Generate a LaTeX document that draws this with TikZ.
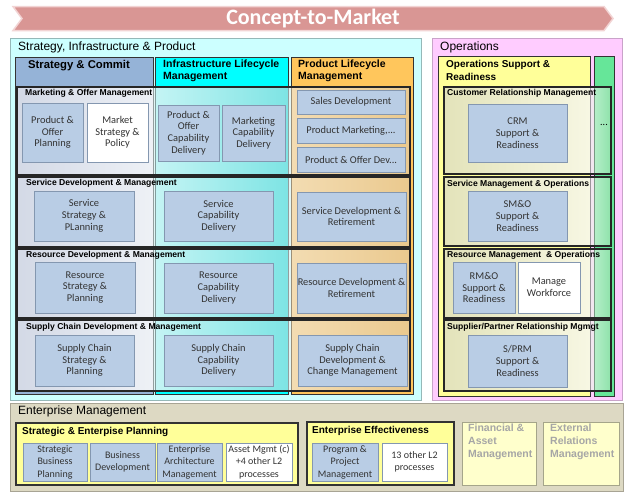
\documentclass[tikz,border=0pt]{standalone}
\usepackage{fontspec}
\setmainfont{Carlito}
\newfontfamily\arial{Liberation Sans}
\definecolor{procfill}{HTML}{B9CDE5}
\definecolor{procline}{HTML}{8497B0}
\definecolor{proctext}{HTML}{333333}
\definecolor{bannerfill}{HTML}{D99694}
\definecolor{bannerline}{HTML}{F2D4D4}
\definecolor{sipfill}{HTML}{CCFFFF}
\definecolor{sipline}{HTML}{95B8B8}
\definecolor{stratfill}{HTML}{95B3D7}
\definecolor{infrafill}{HTML}{00FFFF}
\definecolor{prodfill}{HTML}{FFC65C}
\definecolor{opsfill}{HTML}{FFCCFF}
\definecolor{opsline}{HTML}{C9A3C9}
\definecolor{osrfill}{HTML}{FFFF99}
\definecolor{greenfill}{HTML}{66E699}
\definecolor{emfill}{HTML}{DDD9C3}
\definecolor{emline}{HTML}{A8A494}
\definecolor{faint}{HTML}{A6A6A6}
\definecolor{faintfill}{HTML}{FFFFCC}
\definecolor{faintline}{HTML}{A5A58A}
\definecolor{sL}{HTML}{D3D9E6}
\definecolor{sR}{HTML}{EEF1F6}
\definecolor{iL}{HTML}{C4F4F4}
\definecolor{iR}{HTML}{7EE4E4}
\definecolor{pL}{HTML}{F3DCB2}
\definecolor{pR}{HTML}{EAC98E}
\definecolor{rowbase}{HTML}{E2F6F6}
\definecolor{yL}{HTML}{E3E3BA}
\definecolor{yR}{HTML}{F7F7E3}
\definecolor{gL}{HTML}{B4EEC8}
\definecolor{gR}{HTML}{8EE2AA}
\definecolor{opsrowbase}{HTML}{F2E6F0}
% process box: [style]{name}{x1}{y1}{x2}{y2}{text}
\newcommand\pbox[7][proc]{\node[#1, minimum width={(#5)-(#3)}, minimum height={(#6)-(#4)}]
  (#2) at ({((#3)+(#5))/2},{((#4)+(#6))/2}) {#7};}
\begin{document}
\begin{tikzpicture}[x=1pt,y=-1pt,
  proc/.style={draw=procline, fill=procfill, line width=0.8pt, inner sep=0pt,
    text=proctext, align=center, font=\fontsize{10.4}{11.7}\selectfont},
  procw/.style={proc, fill=white},
  proce/.style={proc, font=\fontsize{10}{12.5}\selectfont},
  procew/.style={proce, fill=white},
  colline/.style={draw=black!80, line width=0.9pt},
  rowframe/.style={draw=black!85, line width=1.1pt},
  rowlabel/.style={anchor=west, inner sep=0pt, font=\arial\bfseries\fontsize{8.6}{10}\selectfont},
  colhead/.style={inner sep=0pt, align=left, font=\arial\bfseries\fontsize{10.5}{12.5}\selectfont},
  paneltitle/.style={anchor=west, inner sep=0pt, font=\arial\fontsize{12}{14}\selectfont},
  grouptitle/.style={anchor=west, inner sep=0pt, font=\arial\bfseries\fontsize{10}{12}\selectfont},
  groupbox/.style={draw=black!80, line width=1.1pt, fill=osrfill},
  faintbox/.style={draw=faintline, line width=1pt, fill=faintfill},
  fainttext/.style={anchor=north west, inner sep=0pt, align=left, text=faint,
    font=\arial\bfseries\fontsize{10.5}{13}\selectfont}
]
\useasboundingbox[fill=white] (0,0) rectangle (628,496);

% banner
\path[draw=bannerline, line width=1.5pt, fill=bannerfill]
  (13,6.5) -- (604,6.5) -- (613,18.5) -- (604,30.5) -- (13,30.5) -- (22,18.5) -- cycle;
\node[text=white, inner sep=0pt, font=\bfseries\fontsize{22}{24}\selectfont] (ctm) at (313,18.5) {Concept-to-Market};

% ---------------- Strategy, Infrastructure & Product
\draw[draw=sipline, line width=1pt, fill=sipfill] (10,38) rectangle (421,400);
\node[paneltitle] (siptitle) at (18,47.5) {Strategy, Infrastructure \& Product};
\draw[colline, fill=stratfill] (15,57) rectangle (153,394);
\draw[colline, fill=infrafill] (155,57) rectangle (288,394);
\draw[colline, fill=prodfill] (291,57) rectangle (413,394);
\node[colhead, font=\arial\bfseries\fontsize{11.3}{13}\selectfont] (sc) at (79,66) {Strategy \& Commit};
\node[colhead, anchor=west] (ilm) at (163,71) {Infrastructure Lifecycle\\Management};
\node[colhead, anchor=west] (plm) at (298,71) {Product Lifecycle\\Management};

\foreach \a/\b in {87/175,177/247,249/318,320/391}{
  \fill[rowbase] (17,\a) rectangle (410,\b);
  \shade[left color=sL, right color=sR] (17,\a) rectangle (152.5,\b);
  \shade[left color=iL, right color=iR] (155.5,\a) rectangle (287.5,\b);
  \shade[left color=pL, right color=pR] (291.5,\a) rectangle (410,\b);
}
\draw[colline, draw opacity=0.45] (15,57) rectangle (153,394);
\draw[colline, draw opacity=0.45] (155,57) rectangle (288,394);
\draw[colline, draw opacity=0.45] (291,57) rectangle (413,394);
\foreach \a/\b in {87/175,177/247,249/318,320/391}{
  \draw[rowframe] (17,\a) rectangle (410,\b);
}
\node[rowlabel] (lmom) at (25,93) {Marketing \& Offer Management};
\node[rowlabel] (lsdm) at (26,183.5) {Service Development \& Management};
\node[rowlabel] (lrdm) at (26,255) {Resource Development \& Management};
\node[rowlabel] (lscm) at (26,327) {Supply Chain Development \& Management};

\pbox{m1}{22}{103}{83}{162}{Product \&\\Offer\\Planning}
\pbox[procw]{m2}{87}{103}{148}{162}{Market\\Strategy \&\\Policy}
\pbox{m3}{158}{105}{219}{161}{Product \&\\Offer\\Capability\\Delivery}
\pbox{m4}{222}{105}{285}{161}{Marketing\\Capability\\Delivery}
\pbox{m5}{297}{90}{405}{114}{Sales Development}
\pbox{m6}{297}{118}{405}{143}{Product Marketing,...}
\pbox{m7}{297}{147}{405}{172}{Product \& Offer Dev...}
\pbox{s1}{34}{191}{134}{241}{Service\\Strategy \&\\PLanning}
\pbox{s2}{164}{191}{273}{241}{Service\\Capability\\Delivery}
\pbox{s3}{297}{192}{406}{241}{Service Development \&\\Retirement}
\pbox{r1}{35}{262}{135}{313}{Resource\\Strategy \&\\Planning}
\pbox{r2}{164}{263}{273}{313}{Resource\\Capability\\Delivery}
\pbox{r3}{297}{263}{406}{313}{Resource Development \&\\Retirement}
\pbox{c1}{35}{335}{134}{386}{Supply Chain\\Strategy \&\\Planning}
\pbox{c2}{164}{335}{273}{386}{Supply Chain\\Capability\\Delivery}
\pbox{c3}{298}{335}{407}{386}{Supply Chain\\Development \&\\Change Management}

% ---------------- Operations
\draw[draw=opsline, line width=1pt, fill=opsfill] (432,38) rectangle (622,400);
\node[paneltitle] (opstitle) at (440,47.5) {Operations};
\draw[colline, fill=osrfill] (438,56) rectangle (590,396);
\draw[colline, fill=greenfill] (594,56) rectangle (614,396);
\node[colhead, anchor=west, font=\arial\bfseries\fontsize{10}{12.5}\selectfont] (osr) at (446,70.5) {Operations Support \&\\Readiness};
\foreach \a/\b in {87/174,177/246,249/318,320/391}{
  \fill[opsrowbase] (444,\a) rectangle (611,\b);
  \shade[left color=yL, right color=yR] (444,\a) rectangle (589.5,\b);
  \shade[left color=gL, right color=gR] (594.5,\a) rectangle (611,\b);
}
\draw[colline, draw opacity=0.45] (438,56) rectangle (590,396);
\draw[colline, draw opacity=0.45] (594,56) rectangle (614,396);
\foreach \a/\b in {87/174,177/246,249/318,320/391}{
  \draw[rowframe] (444,\a) rectangle (611,\b);
}
\node[rowlabel] (lcrm) at (447,93) {Customer Relationship Management};
\node[rowlabel] (lsmo) at (447,184) {Service Management \& Operations};
\node[rowlabel] (lrmo) at (447,255) {Resource Management \ \& Operations};
\node[rowlabel] (lsprm) at (447,327) {Supplier/Partner Relationship Mgmgt};
\node[inner sep=0pt, font=\fontsize{10}{12}\selectfont] (dots) at (604,125) {...};

\pbox{o1}{468}{104}{567}{162}{CRM\\Support \&\\Readiness}
\pbox{o2}{468}{191}{567}{241}{SM\&O\\Support \&\\Readiness}
\pbox{o3}{453}{262}{515}{313}{RM\&O\\Support \&\\Readiness}
\pbox[procw]{o4}{518}{262}{580}{313}{Manage\\Workforce}
\pbox{o5}{468}{335}{567}{387}{S/PRM\\Support \&\\Readiness}

% ---------------- Enterprise Management
\draw[draw=emline, line width=1pt, fill=emfill] (10,403) rectangle (623,491);
\node[paneltitle] (emtitle) at (18,411.5) {Enterprise Management};
\draw[groupbox] (16,423) rectangle (298,485);
\node[grouptitle] (sept) at (22,431.5) {Strategic \& Enterpise Planning};
\draw[groupbox] (307,422) rectangle (454,485);
\node[grouptitle] (eet) at (312,430.5) {Enterprise Effectiveness};
\draw[faintbox] (462,422) rectangle (536,485);
\node[fainttext] (fam) at (468,424) {Financial \&\\Asset\\Management};
\draw[faintbox] (543,422) rectangle (619,485);
\node[fainttext] (erm) at (550,424) {External\\Relations\\Management};

\pbox[proce]{e1}{23}{443}{87}{481}{Strategic\\Business\\Planning}
\pbox[proce]{e2}{90}{443}{155}{481}{Business\\Development}
\pbox[proce]{e3}{157}{443}{222}{481}{Enterprise\\Architecture\\Management}
\pbox[procew]{e4}{226}{443}{292}{481}{Asset Mgmt (c)\\+4 other L2\\processes}
\pbox[proce]{e5}{312}{443}{378}{481}{Program \&\\Project\\Management}
\pbox[procew]{e6}{382}{443}{447}{481}{13 other L2\\processes}
\end{tikzpicture}
\end{document}
